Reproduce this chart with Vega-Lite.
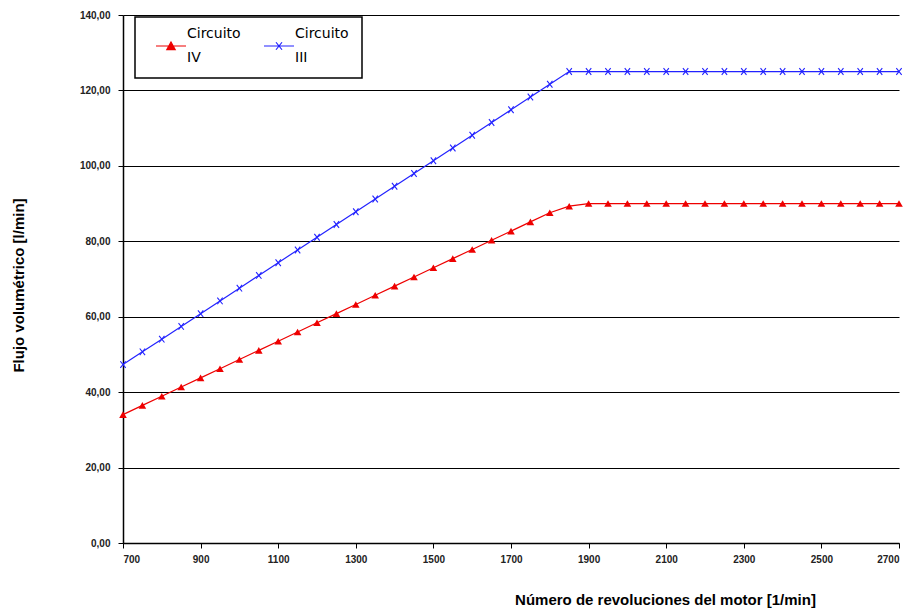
{
  "$schema": "https://vega.github.io/schema/vega-lite/v6.json",
  "width": 776,
  "height": 528,
  "autosize": {"type": "none"},
  "padding": {"left": 123, "top": 15, "right": 16, "bottom": 70},
  "background": "white",
  "config": {"view": {"stroke": null}},
  "data": {"values": [
    {"rpm":700,"flow":47.30,"serie":"Circuito III"},{"rpm":750,"flow":50.68,"serie":"Circuito III"},{"rpm":800,"flow":54.05,"serie":"Circuito III"},{"rpm":850,"flow":57.43,"serie":"Circuito III"},{"rpm":900,"flow":60.81,"serie":"Circuito III"},{"rpm":950,"flow":64.19,"serie":"Circuito III"},{"rpm":1000,"flow":67.57,"serie":"Circuito III"},{"rpm":1050,"flow":70.95,"serie":"Circuito III"},{"rpm":1100,"flow":74.32,"serie":"Circuito III"},{"rpm":1150,"flow":77.70,"serie":"Circuito III"},{"rpm":1200,"flow":81.08,"serie":"Circuito III"},{"rpm":1250,"flow":84.46,"serie":"Circuito III"},{"rpm":1300,"flow":87.84,"serie":"Circuito III"},{"rpm":1350,"flow":91.22,"serie":"Circuito III"},{"rpm":1400,"flow":94.59,"serie":"Circuito III"},{"rpm":1450,"flow":97.97,"serie":"Circuito III"},{"rpm":1500,"flow":101.35,"serie":"Circuito III"},{"rpm":1550,"flow":104.73,"serie":"Circuito III"},{"rpm":1600,"flow":108.11,"serie":"Circuito III"},{"rpm":1650,"flow":111.49,"serie":"Circuito III"},{"rpm":1700,"flow":114.86,"serie":"Circuito III"},{"rpm":1750,"flow":118.24,"serie":"Circuito III"},{"rpm":1800,"flow":121.62,"serie":"Circuito III"},{"rpm":1850,"flow":125,"serie":"Circuito III"},{"rpm":1900,"flow":125,"serie":"Circuito III"},{"rpm":1950,"flow":125,"serie":"Circuito III"},{"rpm":2000,"flow":125,"serie":"Circuito III"},{"rpm":2050,"flow":125,"serie":"Circuito III"},{"rpm":2100,"flow":125,"serie":"Circuito III"},{"rpm":2150,"flow":125,"serie":"Circuito III"},{"rpm":2200,"flow":125,"serie":"Circuito III"},{"rpm":2250,"flow":125,"serie":"Circuito III"},{"rpm":2300,"flow":125,"serie":"Circuito III"},{"rpm":2350,"flow":125,"serie":"Circuito III"},{"rpm":2400,"flow":125,"serie":"Circuito III"},{"rpm":2450,"flow":125,"serie":"Circuito III"},{"rpm":2500,"flow":125,"serie":"Circuito III"},{"rpm":2550,"flow":125,"serie":"Circuito III"},{"rpm":2600,"flow":125,"serie":"Circuito III"},{"rpm":2650,"flow":125,"serie":"Circuito III"},{"rpm":2700,"flow":125,"serie":"Circuito III"},
    {"rpm":700,"flow":34.05,"serie":"Circuito IV"},{"rpm":750,"flow":36.49,"serie":"Circuito IV"},{"rpm":800,"flow":38.92,"serie":"Circuito IV"},{"rpm":850,"flow":41.35,"serie":"Circuito IV"},{"rpm":900,"flow":43.78,"serie":"Circuito IV"},{"rpm":950,"flow":46.22,"serie":"Circuito IV"},{"rpm":1000,"flow":48.65,"serie":"Circuito IV"},{"rpm":1050,"flow":51.08,"serie":"Circuito IV"},{"rpm":1100,"flow":53.51,"serie":"Circuito IV"},{"rpm":1150,"flow":55.95,"serie":"Circuito IV"},{"rpm":1200,"flow":58.38,"serie":"Circuito IV"},{"rpm":1250,"flow":60.81,"serie":"Circuito IV"},{"rpm":1300,"flow":63.24,"serie":"Circuito IV"},{"rpm":1350,"flow":65.68,"serie":"Circuito IV"},{"rpm":1400,"flow":68.11,"serie":"Circuito IV"},{"rpm":1450,"flow":70.54,"serie":"Circuito IV"},{"rpm":1500,"flow":72.97,"serie":"Circuito IV"},{"rpm":1550,"flow":75.41,"serie":"Circuito IV"},{"rpm":1600,"flow":77.84,"serie":"Circuito IV"},{"rpm":1650,"flow":80.27,"serie":"Circuito IV"},{"rpm":1700,"flow":82.70,"serie":"Circuito IV"},{"rpm":1750,"flow":85.14,"serie":"Circuito IV"},{"rpm":1800,"flow":87.57,"serie":"Circuito IV"},{"rpm":1850,"flow":89.3,"serie":"Circuito IV"},{"rpm":1900,"flow":90,"serie":"Circuito IV"},{"rpm":1950,"flow":90,"serie":"Circuito IV"},{"rpm":2000,"flow":90,"serie":"Circuito IV"},{"rpm":2050,"flow":90,"serie":"Circuito IV"},{"rpm":2100,"flow":90,"serie":"Circuito IV"},{"rpm":2150,"flow":90,"serie":"Circuito IV"},{"rpm":2200,"flow":90,"serie":"Circuito IV"},{"rpm":2250,"flow":90,"serie":"Circuito IV"},{"rpm":2300,"flow":90,"serie":"Circuito IV"},{"rpm":2350,"flow":90,"serie":"Circuito IV"},{"rpm":2400,"flow":90,"serie":"Circuito IV"},{"rpm":2450,"flow":90,"serie":"Circuito IV"},{"rpm":2500,"flow":90,"serie":"Circuito IV"},{"rpm":2550,"flow":90,"serie":"Circuito IV"},{"rpm":2600,"flow":90,"serie":"Circuito IV"},{"rpm":2650,"flow":90,"serie":"Circuito IV"},{"rpm":2700,"flow":90,"serie":"Circuito IV"}
  ]},
  "encoding": {
    "x": {"field": "rpm", "type": "quantitative",
      "scale": {"domain": [700, 2700], "nice": false, "zero": false},
      "axis": {"values": [700,900,1100,1300,1500,1700,1900,2100,2300,2500,2700], "format": "d",
        "grid": false, "domainColor": "black", "domainWidth": 1.5, "tickColor": "black", "tickSize": 5,
        "labelFont": "Liberation Sans", "labelFontWeight": "bold", "labelFontSize": 10, "labelColor": "#222", "labelPadding": 6,
        "title": "Número de revoluciones del motor [1/min]",
        "titleFont": "Liberation Sans", "titleFontSize": 15, "titleFontWeight": "bold", "titleColor": "black",
        "titleX": 542, "titleY": 49, "titleAlign": "center"}},
    "y": {"field": "flow", "type": "quantitative",
      "scale": {"domain": [0, 140], "nice": false},
      "axis": {"values": [0,20,40,60,80,100,120,140],
        "grid": true, "gridColor": "black", "gridWidth": 1,
        "domainColor": "black", "domainWidth": 1.5, "tickColor": "black", "tickSize": 5,
        "labelExpr": "replace(format(datum.value, '.2f'), '.', ',')",
        "labelFont": "Liberation Sans", "labelFontWeight": "bold", "labelFontSize": 10, "labelColor": "#222", "labelPadding": 8,
        "title": "Flujo volumétrico [l/min]",
        "titleFont": "Liberation Sans", "titleFontSize": 15, "titleFontWeight": "bold", "titleColor": "black",
        "titleX": -97, "titleY": 270}},
    "color": {"field": "serie", "type": "nominal",
      "scale": {"domain": ["Circuito IV", "Circuito III"], "range": ["#ee0000", "#2222ff"]},
      "legend": {"orient": "none", "legendX": 12, "legendY": 2, "direction": "horizontal", "columns": 2,
        "title": null, "strokeColor": "black", "fillColor": "white",
        "padding": 13, "columnPadding": 15, "symbolOffset": 7, "symbolSize": 900, "symbolStrokeWidth": 1.2,
        "labelFont": "DejaVu Sans", "labelFontSize": 14, "labelColor": "black", "labelOffset": 0, "labelLimit": 200,
        "labelExpr": "split(datum.label, ' ')",
        "encode": {
          "legend": {"update": {"strokeWidth": {"value": 1.5}}},
          "labels": {"update": {"lineHeight": {"value": 24}, "dy": {"value": -12}}},
          "symbols": {"update": {
          "shape": {"signal": "datum.value === 'Circuito IV' ? 'M-1,0L1,0M0,-0.27L0.28,0.24L-0.28,0.24Z' : 'M-1,0L1,0M-0.2,-0.25L0.2,0.25M-0.2,0.25L0.2,-0.25'"},
          "fill": {"signal": "datum.value === 'Circuito IV' ? '#ee0000' : 'transparent'"},
          "stroke": {"signal": "datum.value === 'Circuito IV' ? '#ee0000' : '#2222ff'"}}}}}}
  },
  "layer": [
    {"mark": {"type": "line", "strokeWidth": 1.2}},
    {"transform": [{"filter": "datum.serie === 'Circuito IV'"}],
     "mark": {"type": "point", "filled": true, "size": 58, "shape": "triangle-up", "opacity": 1}},
    {"transform": [{"filter": "datum.serie === 'Circuito III'"}],
     "mark": {"type": "point", "filled": false, "size": 45, "strokeWidth": 1.1, "shape": "M-0.8,-1L0.8,1M-0.8,1L0.8,-1", "opacity": 1}}
  ]
}
